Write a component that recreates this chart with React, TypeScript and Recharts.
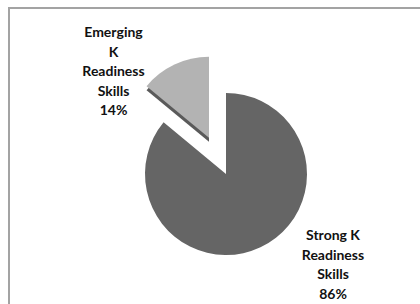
import React from "react";
import { PieChart, Pie, Cell } from "recharts";

const categories = ["Strong K Readiness Skills", "Emerging K Readiness Skills"];
const values = [86, 14];
const labelLines = [
  ["Strong K", "Readiness", "Skills"],
  ["Emerging", "K", "Readiness", "Skills"],
];
const colors = ["#656565", "#b3b3b3"];

const data = categories.map((name, i) => ({ name, value: values[i] }));

const W = 420;
const H = 304;
const CX = 226;
const CY = 174;
const R = 81;
const START = 90;
const END = -270;
const EXPLODE = 40;

const total = values.reduce((a, b) => a + b, 0);
// mid angle of the exploded (second) slice
const explodeMid = START - ((values[0] + values[1] / 2) / total) * 360;
const exDx = EXPLODE * Math.cos((explodeMid * Math.PI) / 180);
const exDy = -EXPLODE * Math.sin((explodeMid * Math.PI) / 180);

const labelPos = [
  { dx: 107, dy: 60 },
  { dx: -112.5, dy: -143 },
];

const renderLabel = (props: any) => {
  const { cx, cy, index } = props;
  const lines = [...labelLines[index], `${values[index]}%`];
  const x = cx + labelPos[index].dx;
  const y0 = cy + labelPos[index].dy;
  return (
    <text
      key={`lbl-${index}`}
      x={x}
      y={y0}
      textAnchor="middle"
      dominantBaseline="central"
      fontFamily="Lato, 'Open Sans', sans-serif"
      fontWeight={700}
      fontSize={14}
      fill="#111"
    >
      {lines.map((l, i) => (
        <tspan key={i} x={x} y={y0 + i * 19.6} dominantBaseline="central">
          {l}
        </tspan>
      ))}
    </text>
  );
};

export default function App() {
  return (
    <div style={{ position: "absolute", left: 0, top: 0, width: W, height: H, background: "#fff", overflow: "hidden" }}>
      <div
        style={{
          position: "absolute",
          left: 8,
          top: 7,
          width: W + 20,
          height: H + 20,
          borderLeft: "2px solid #a3a3a3",
          borderTop: "2px solid #a3a3a3",
        }}
      />
      <div style={{ position: "absolute", left: 0, top: 0 }}>
        <PieChart width={W} height={H} margin={{ top: 0, right: 0, bottom: 0, left: 0 }}>
          {/* shadow under exploded slice */}
          <Pie
            data={data}
            dataKey="value"
            nameKey="name"
            cx={CX + exDx}
            cy={CY + exDy + 4}
            outerRadius={R}
            startAngle={START}
            endAngle={END}
            isAnimationActive={false}
            stroke="none"
            labelLine={false}
          >
            {data.map((d, i) => (
              <Cell key={d.name} fill={i === 1 ? "#5a5a5a" : "transparent"} />
            ))}
          </Pie>
          {/* exploded slice */}
          <Pie
            data={data}
            dataKey="value"
            nameKey="name"
            cx={CX + exDx}
            cy={CY + exDy}
            outerRadius={R}
            startAngle={START}
            endAngle={END}
            isAnimationActive={false}
            stroke="none"
            labelLine={false}
          >
            {data.map((d, i) => (
              <Cell key={d.name} fill={i === 1 ? colors[1] : "transparent"} />
            ))}
          </Pie>
          {/* main slice */}
          <Pie
            data={data}
            dataKey="value"
            nameKey="name"
            cx={CX}
            cy={CY}
            outerRadius={R}
            startAngle={START}
            endAngle={END}
            isAnimationActive={false}
            stroke="none"
            labelLine={false}
            label={renderLabel}
          >
            {data.map((d, i) => (
              <Cell key={d.name} fill={i === 0 ? colors[0] : "transparent"} />
            ))}
          </Pie>
        </PieChart>
      </div>
    </div>
  );
}
